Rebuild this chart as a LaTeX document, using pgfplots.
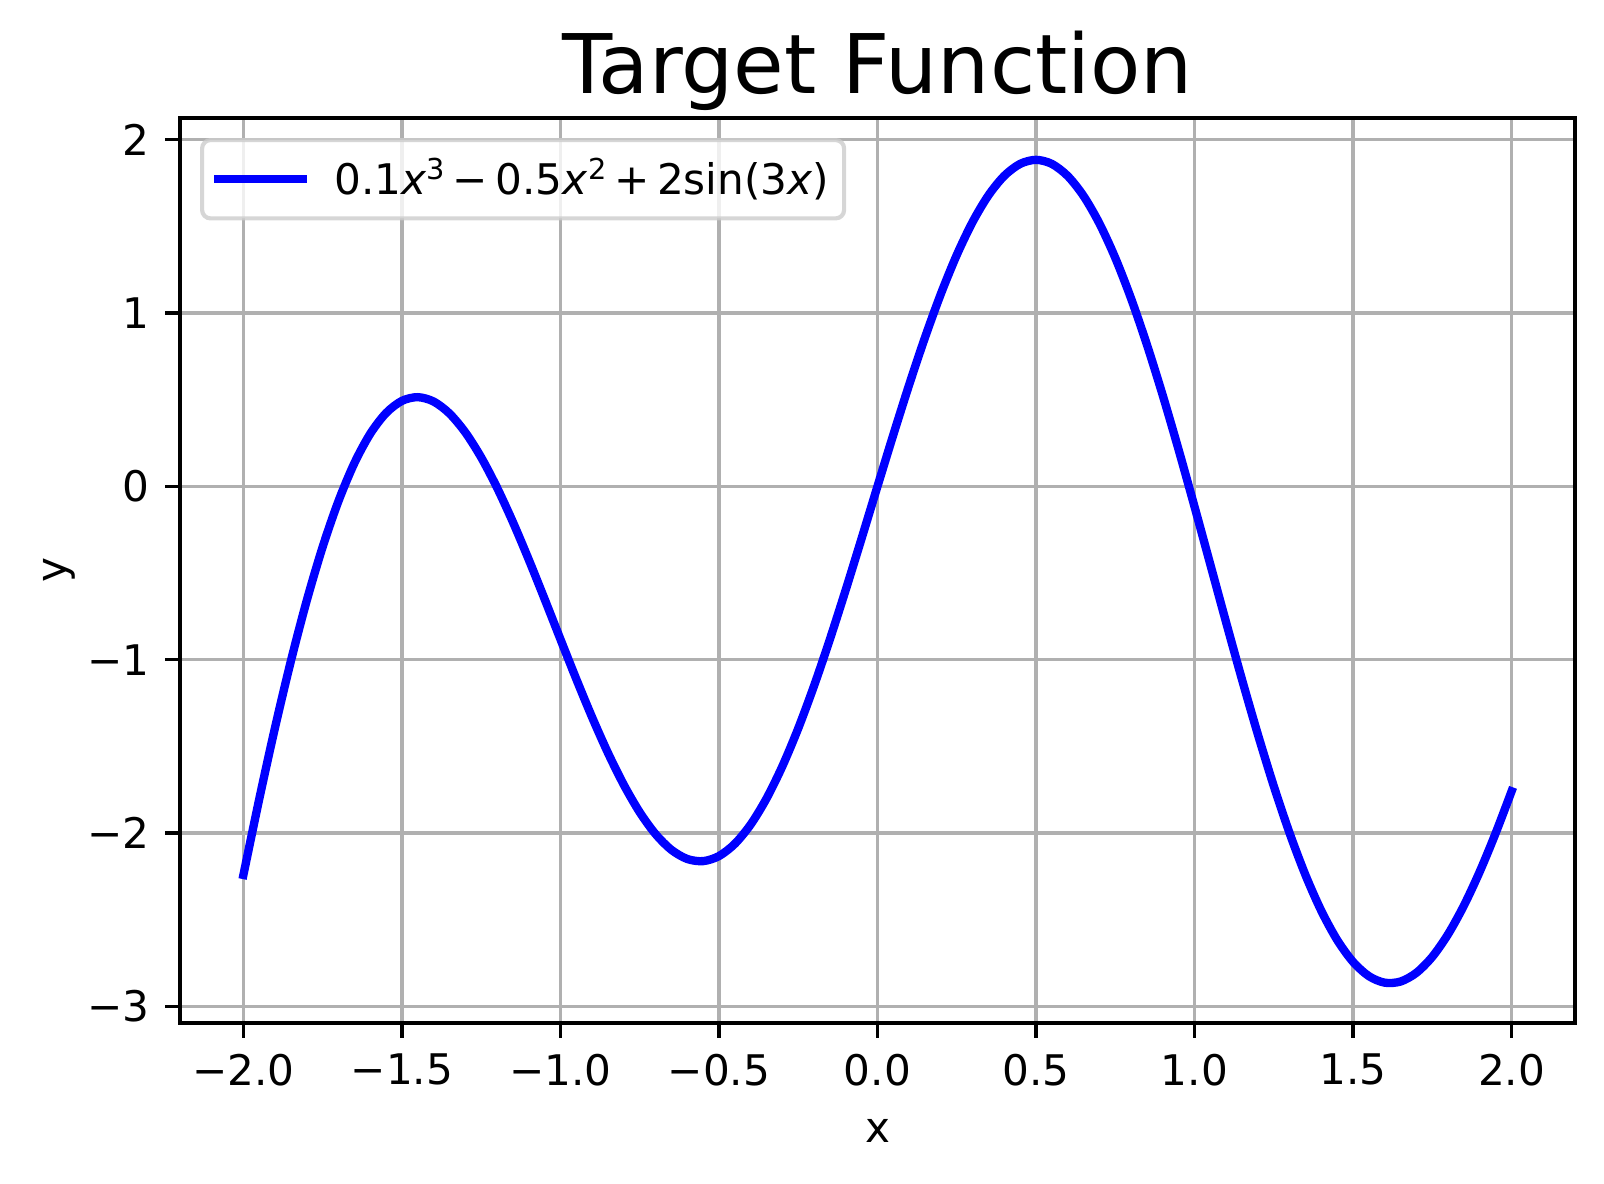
\documentclass[border=0pt]{standalone}
\usepackage{fontspec}
\setmainfont{DejaVu Sans}
\usepackage{pgfplots}
\pgfplotsset{compat=1.18}
\definecolor{gridgray}{HTML}{B0B0B0}
\definecolor{legedge}{HTML}{CCCCCC}
\newcommand\sups[1]{\raisebox{4.3pt}{\fontsize{8.2}{9}\selectfont #1}}
\begin{document}
\begin{tikzpicture}
\path[use as bounding box] (-1.80cm,-1.61cm) rectangle (14.24cm,10.23cm);
\begin{axis}[
  at={(0,0)}, anchor=south west,
  width=13.95cm, height=9.05cm, scale only axis,
  xmin=-2.2, xmax=2.2, ymin=-3.095, ymax=2.124,
  xtick={-2,-1.5,-1,-0.5,0,0.5,1,1.5,2},
  xticklabels={−2.0,−1.5,−1.0,−0.5,0.0,0.5,1.0,1.5,2.0},
  ytick={-3,-2,-1,0,1,2},
  yticklabels={−3,−2,−1,0,1,2},
  tick align=outside, xtick pos=lower, ytick pos=left,
  major tick length=4.15pt,
  tick style={line width=0.94pt, black},
  axis line style={line width=0.94pt},
  grid=major,
  major grid style={gridgray, line width=0.94pt},
  ticklabel style={font=\fontsize{12}{14}\selectfont},
  xticklabel style={inner sep=0pt, anchor=north, yshift=-4.5pt},
  yticklabel style={inner sep=0pt, anchor=east, xshift=-4.4pt},
  title={Target Function},
  title style={at={(axis description cs:0.5,1)}, anchor=base, yshift=1.0pt, inner sep=0pt, font=\fontsize{23.4}{28}\selectfont},
  xlabel={x},
  xlabel style={at={(axis description cs:0.5,0)}, anchor=base, yshift=-34.1pt, inner sep=0pt, font=\fontsize{12}{14}\selectfont},
  ylabel={y},
  ylabel style={at={([xshift=-32.2pt]axis description cs:0,0.5)}, anchor=base, inner sep=0pt, font=\fontsize{12}{14}\selectfont},
  legend style={at={(axis description cs:0,1)}, anchor=north west, xshift=5.7pt, yshift=-5.7pt,
    draw=legedge, draw opacity=0.8, fill=white, fill opacity=0.8, text opacity=1,
    line width=1.18pt, rounded corners=2.4pt,
    inner xsep=2.2pt, inner ysep=3.2pt,
    font=\fontsize{12}{14}\selectfont},
  legend cell align=left,
  legend image code/.code={\draw[#1, draw opacity=1, line cap=butt] (0pt,0pt) -- (26.5pt,0pt); \path[draw=none, fill=none] (32.3pt,0pt) coordinate (legendpad);},
]
\addplot[blue, line width=2.37pt, line cap=rect, smooth] coordinates {
(-2.00,-2.2412) (-1.95,-1.8032) (-1.90,-1.3895) (-1.85,-1.0059) (-1.80,-0.6577)
(-1.75,-0.3493) (-1.70,-0.0847) (-1.65,0.1334) (-1.60,0.3027) (-1.55,0.4225)
(-1.50,0.4926) (-1.45,0.5140) (-1.40,0.4888) (-1.35,0.4198) (-1.30,0.3108)
(-1.25,0.1666) (-1.20,-0.0078) (-1.15,-0.2062) (-1.10,-0.4226) (-1.05,-0.6502)
(-1.00,-0.8822) (-0.95,-1.1120) (-0.90,-1.3327) (-0.85,-1.5380) (-0.80,-1.7221)
(-0.75,-1.8796) (-0.70,-2.0057) (-0.65,-2.0966) (-0.60,-2.1493) (-0.55,-2.1616)
(-0.50,-2.1325) (-0.45,-2.0618) (-0.40,-1.9505) (-0.35,-1.8004) (-0.30,-1.6144)
(-0.25,-1.3961) (-0.20,-1.1501) (-0.15,-0.8815) (-0.10,-0.5961) (-0.05,-0.3001)
(0.00,0.0000) (0.05,0.2976) (0.10,0.5861) (0.15,0.8590) (0.20,1.1101)
(0.25,1.3336) (0.30,1.5244) (0.35,1.6779) (0.40,1.7905) (0.45,1.8593)
(0.50,1.8825) (0.55,1.8591) (0.60,1.7893) (0.65,1.6741) (0.70,1.5157)
(0.75,1.3171) (0.80,1.0821) (0.85,0.8155) (0.90,0.5227) (0.95,0.2095)
(1.00,-0.1178) (1.05,-0.4523) (1.10,-0.7874) (1.15,-1.1163) (1.20,-1.4322)
(1.25,-1.7291) (1.30,-2.0008) (1.35,-2.2423) (1.40,-2.4488) (1.45,-2.6165)
(1.50,-2.7426) (1.55,-2.8250) (1.60,-2.8627) (1.65,-2.8559) (1.70,-2.8053)
(1.75,-2.7132) (1.80,-2.5823) (1.85,-2.4166) (1.90,-2.2205) (1.95,-1.9993)
(2.00,-1.7588)
};
\addlegendentry{0.1\textit{x}\sups{3}\hspace{0.18em}−\hspace{0.18em}0.5\textit{x}\sups{2}\hspace{0.18em}+\hspace{0.18em}2sin(3\textit{x})}
\end{axis}
\end{tikzpicture}
\end{document}
